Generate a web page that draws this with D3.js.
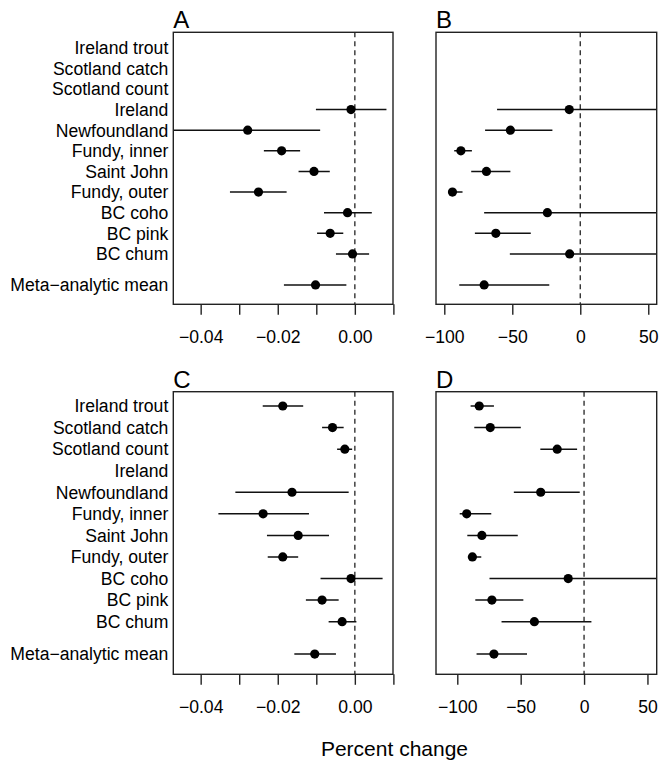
<!DOCTYPE html>
<html>
<head>
<meta charset="utf-8">
<script src="https://cdn.jsdelivr.net/npm/d3@7"></script>
<style>
  body { margin: 0; background: #fff; }
  svg text { font-family: "Liberation Sans", Arial, Helvetica, sans-serif; fill: #000; }
</style>
</head>
<body>
<div id="container"></div>
<script>
var W = 662, H = 760;

// row labels, top to bottom (meta-analytic mean sits after a half-row gap)
var rowLabels = ['Ireland trout', 'Scotland catch', 'Scotland count', 'Ireland', 'Newfoundland',
                 'Fundy, inner', 'Saint John', 'Fundy, outer', 'BC coho', 'BC pink', 'BC chum',
                 'Meta\u2212analytic mean'];
var rowPos = [0, 1, 2, 3, 4, 5, 6, 7, 8, 9, 10, 11.5];

// panel A: slope estimates (null = no data)
var estA = [null, null, null, -0.0010, -0.0278, -0.0190, -0.0106, -0.0250, -0.0019, -0.0064, -0.0006, -0.0102];
var loA  = [null, null, null, -0.0101, -0.0600, -0.0236, -0.0146, -0.0324, -0.0080, -0.0098, -0.0049, -0.0184];
var hiA  = [null, null, null,  0.0082, -0.0090, -0.0142, -0.0065, -0.0177,  0.0044, -0.0030,  0.0037, -0.0022];

// panel B: percent change
var estB = [null, null, null,  -8.1, -51.4, -87.8, -69.0, -94.0, -24.2, -62.1,  -7.8, -70.7];
var loB  = [null, null, null, -61.2, -70.0, -92.7, -80.2, -95.7, -70.7, -77.5, -51.8, -89.0];
var hiB  = [null, null, null, 200.0, -20.5, -79.7, -51.4, -86.6, 200.0, -36.4, 200.0, -22.8];

// panel C
var estC = [-0.0187, -0.0058, -0.0026, null, -0.0163, -0.0238, -0.0147, -0.0187, -0.0010, -0.0085, -0.0033, -0.0104];
var loC  = [-0.0239, -0.0085, -0.0046, null, -0.0310, -0.0354, -0.0228, -0.0226, -0.0089, -0.0127, -0.0068, -0.0157];
var hiC  = [-0.0134, -0.0029, -0.0007, null, -0.0016, -0.0119, -0.0067, -0.0147,  0.0072, -0.0042,  0.0004, -0.0049];

// panel D
var estD = [-82.7, -74.0, -21.2, null, -34.2, -92.6, -80.6, -88.1, -12.5, -72.7, -39.2, -71.1];
var loD  = [-89.5, -86.6, -34.5, null, -55.4, -98.1, -92.1, -91.6, -74.6, -85.8, -65.1, -84.8];
var hiD  = [-71.1, -49.9,  -5.5, null,  -3.4, -73.2, -52.3, -81.1, 200.0, -47.9,   5.8, -45.0];

var ticksSlope = [-0.04, -0.03, -0.02, -0.01, 0.00, 0.01];
var labelsSlope = [-0.04, -0.02, 0.00];
var ticksPct = [-100, -50, 0, 50];

var svg = d3.select('#container').append('svg')
    .attr('width', W)
    .attr('height', H);

var defs = svg.append('defs');

function series(est, lo, hi) {
    return rowLabels.map((d, i) => ({label: d, pos: rowPos[i], est: est[i], lo: lo[i], hi: hi[i]}))
        .filter(d => d.est !== null);
}

var panels = [
    {id: 'A', x0: 173.3, x1: 393, y0: 32.3, y1: 304.3, xd: [-0.0471, 0.0099], yd: [-0.746, 12.44],
     data: series(estA, loA, hiA), ticks: ticksSlope, labels: labelsSlope, fmt: d3.format('.2f'), rows: true},
    {id: 'B', x0: 436, x1: 656.7, y0: 32.3, y1: 304.3, xd: [-106.1, 56.2], yd: [-0.746, 12.44],
     data: series(estB, loB, hiB), ticks: ticksPct, labels: ticksPct, fmt: d3.format('d'), rows: false},
    {id: 'C', x0: 173.3, x1: 393, y0: 391.7, y1: 674.3, xd: [-0.0471, 0.0099], yd: [-0.663, 12.44],
     data: series(estC, loC, hiC), ticks: ticksSlope, labels: labelsSlope, fmt: d3.format('.2f'), rows: true},
    {id: 'D', x0: 436, x1: 656.7, y0: 391.7, y1: 674.3, xd: [-116.8, 57.3], yd: [-0.663, 12.44],
     data: series(estD, loD, hiD), ticks: ticksPct, labels: ticksPct, fmt: d3.format('d'), rows: false}
];

panels.forEach(p => {
    var xScale = d3.scaleLinear().domain(p.xd).range([p.x0, p.x1]);
    var yScale = d3.scaleLinear().domain(p.yd).range([p.y0, p.y1]);
    var g = svg.append('g').classed('panel' + p.id, true);

    defs.append('clipPath').attr('id', 'clip' + p.id)
      .append('rect')
        .attr('x', p.x0).attr('y', p.y0)
        .attr('width', p.x1 - p.x0).attr('height', p.y1 - p.y0);

    // dashed zero line
    g.append('line')
        .attr('x1', xScale(0)).attr('x2', xScale(0))
        .attr('y1', p.y0).attr('y2', p.y1)
        .attr('stroke', '#333').attr('stroke-width', 1.4)
        .attr('stroke-dasharray', '5,4');

    var marks = g.append('g').attr('clip-path', 'url(#clip' + p.id + ')');

    // interval lines
    marks.selectAll('.ci').data(p.data)
      .enter().append('line')
        .classed('ci', true)
        .attr('x1', d => xScale(d.lo)).attr('x2', d => xScale(d.hi))
        .attr('y1', d => yScale(d.pos)).attr('y2', d => yScale(d.pos))
        .attr('stroke', '#111').attr('stroke-width', 1.5);

    // point estimates
    marks.selectAll('.pt').data(p.data)
      .enter().append('circle')
        .classed('pt', true)
        .attr('cx', d => xScale(d.est)).attr('cy', d => yScale(d.pos))
        .attr('r', 4.6).attr('fill', '#000');

    // box
    g.append('rect')
        .attr('x', p.x0).attr('y', p.y0)
        .attr('width', p.x1 - p.x0).attr('height', p.y1 - p.y0)
        .attr('fill', 'none').attr('stroke', '#222').attr('stroke-width', 1.4);

    // bottom axis
    var xAxis = d3.axisBottom(xScale)
        .tickValues(p.ticks)
        .tickSize(10.5)
        .tickPadding(16)
        .tickFormat(v => p.labels.some(l => Math.abs(l - v) < 1e-9) ? p.fmt(v) : '');
    g.append('g')
        .attr('transform', `translate(0, ${p.y1})`)
        .call(xAxis)
        .call(a => a.select('.domain').remove())
        .call(a => a.selectAll('.tick line').attr('stroke', '#222').attr('stroke-width', 1.4))
        .selectAll('text')
            .attr('font-size', 17.6)
            .attr('font-family', '"Liberation Sans", Arial, sans-serif')
            .attr('fill', '#000');

    // row labels
    if (p.rows) {
        g.selectAll('.rowlab').data(rowLabels)
          .enter().append('text')
            .classed('rowlab', true)
            .attr('x', p.x0 - 5)
            .attr('y', (d, i) => yScale(rowPos[i]))
            .attr('dy', '0.36em')
            .attr('text-anchor', 'end')
            .attr('font-size', 17.6)
            .text(d => d);
    }

    // panel letter
    g.append('text')
        .attr('x', p.x0)
        .attr('y', p.y0 - 4)
        .attr('font-size', 24)
        .text(p.id);
});

svg.append('text')
    .attr('x', 394.5)
    .attr('y', 756)
    .attr('text-anchor', 'middle')
    .attr('font-size', 21)
    .text('Percent change');
</script>
</body>
</html>
